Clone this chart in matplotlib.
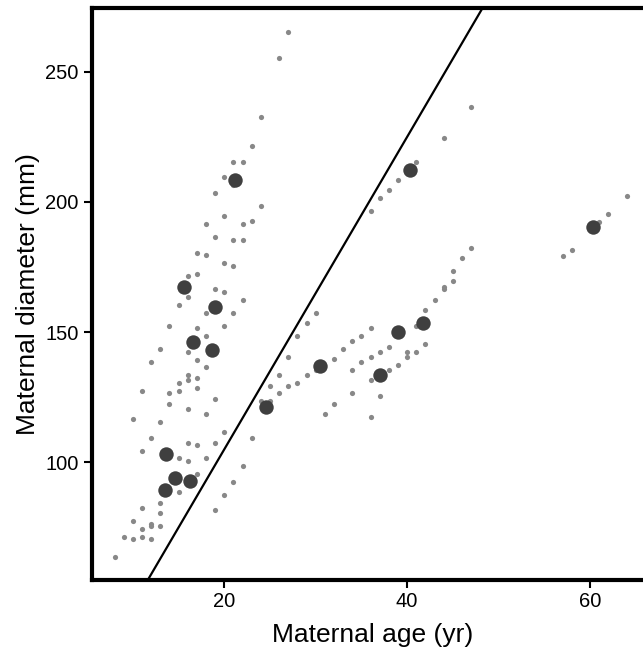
import matplotlib
matplotlib.use("Agg")
import matplotlib.pyplot as plt

plt.rcParams['font.family'] = ['Liberation Sans', 'DejaVu Sans']

# individual measurements (age in yr, diameter in mm)
ind_age = [27, 26, 24, 23, 21, 22, 20, 21, 19, 24, 20, 18, 22, 23, 19, 21, 22,
           17, 18, 20, 21, 16, 17, 19, 20, 16, 22, 15, 18, 21, 14, 20, 17, 18,
           13, 16, 17, 12, 18, 16, 15, 16, 17, 17, 11, 14, 15, 19, 14, 16, 18,
           10, 13, 20, 12, 16, 17, 19, 11, 15, 16, 18, 17, 15, 13, 11, 13, 10,
           12, 12, 13, 11, 9, 10, 11, 12, 8,
           22, 21, 20, 19, 23, 24, 25, 25, 26, 26, 27, 27, 28, 28, 29, 29, 30,
           30, 31, 32, 32, 33, 34, 34, 34, 35, 35, 36, 36, 36, 36, 37, 37, 38,
           38, 39, 40, 40, 41, 41, 42, 42, 43, 44, 44, 45, 45, 46, 47,
           47, 44, 41, 39, 38, 37, 36,
           64, 62, 61, 58, 57]
ind_diam = [265.4, 255.4, 232.5, 221.5, 215.4, 215.4, 209.6, 206.4, 203.5,
            198.5, 194.6, 191.5, 191.5, 192.6, 186.5, 185.5, 185.5, 180.5,
            179.5, 176.5, 175.5, 171.5, 172.4, 166.6, 165.5, 163.6, 162.4,
            160.5, 157.5, 157.5, 152.5, 152.5, 151.5, 148.5, 143.5, 142.5,
            139.4, 138.5, 136.5, 133.4, 130.5, 131.5, 132.5, 128.4, 127.5,
            126.5, 127.5, 124.4, 122.4, 120.5, 118.4, 116.5, 115.5, 111.5,
            109.4, 107.4, 106.5, 107.4, 104.5, 101.5, 100.5, 101.5, 95.5,
            88.6, 84.5, 82.4, 80.5, 77.5, 76.4, 75.5, 75.5, 74.5, 71.4, 70.5,
            71.4, 70.5, 63.5,
            98.6, 92.4, 87.6, 81.6, 109.4, 123.4, 123.4, 129.4, 133.4, 126.5,
            140.4, 129.4, 148.5, 130.5, 153.5, 133.4, 157.5, 135.4, 118.5,
            139.6, 122.5, 143.5, 146.5, 135.4, 126.5, 148.5, 138.4, 151.5,
            140.4, 131.5, 117.5, 142.5, 125.5, 144.4, 135.4, 137.5, 142.5,
            140.4, 152.5, 142.5, 158.5, 145.4, 162.4, 167.4, 166.4, 173.5,
            169.5, 178.5, 182.4,
            236.4, 224.4, 215.4, 208.4, 204.5, 201.5, 196.5,
            202.4, 195.4, 192.4, 181.5, 179.3]

# group means
mean_age = [21.2, 15.6, 19.0, 16.6, 18.6, 13.65, 14.6, 16.3, 13.5,
            24.6, 30.5, 37.0, 39.0, 41.7, 40.3, 60.3]
mean_diam = [208.3, 167.4, 159.8, 146.2, 143.0, 103.3, 94.1, 92.8, 89.2,
             121.4, 137.0, 133.4, 150.0, 153.6, 212.3, 190.2]

# reference line
line_intercept = -15.0
line_slope = 6.0

fig = plt.figure(figsize=(6.43, 6.59), dpi=100)
ax = fig.add_axes([0.1431, 0.1199, 0.874, 0.868])

ax.scatter(ind_age, ind_diam, s=14, color='#888888', linewidths=0, zorder=2)
ax.scatter(mean_age, mean_diam, s=108, color='#3f3f3f', linewidths=0, zorder=3)
ax.axline((0, line_intercept), slope=line_slope, color='black', lw=1.6, zorder=4)

ax.set_xlim(5.53, 67)
ax.set_ylim(54.8, 274.5)
ax.set_xticks([20, 40, 60])
ax.set_yticks([100, 150, 200, 250])

for side in ['left', 'bottom', 'top', 'right']:
    ax.spines[side].set_linewidth(3)
ax.tick_params(axis='both', direction='out', length=5.5, width=1.5,
               labelsize=14.5, top=False, right=False)
ax.tick_params(axis='y', pad=4)

ax.set_xlabel('Maternal age (yr)', fontsize=19, labelpad=8)
ax.set_ylabel('Maternal diameter (mm)', fontsize=19, labelpad=4)

fig.savefig('out.png', dpi=100)
